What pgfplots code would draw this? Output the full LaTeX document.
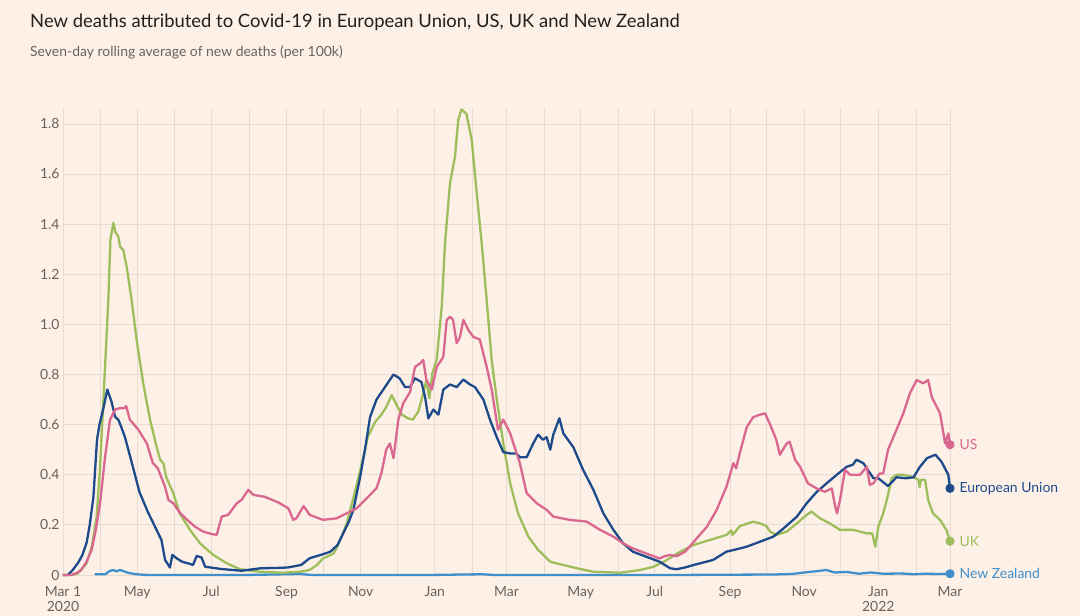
\documentclass[border=0pt]{standalone}
\usepackage{pgfplots}
\pgfplotsset{compat=1.18}
\usepackage{fontspec}
\setmainfont{Lato}
\definecolor{bg}{HTML}{FDF0E6}
\definecolor{gridc}{HTML}{E8DCD2}
\definecolor{tickc}{HTML}{6A625C}
\definecolor{titlec}{HTML}{231F1C}
\definecolor{usc}{HTML}{D9678F}
\definecolor{euc}{HTML}{1D4A8A}
\definecolor{ukc}{HTML}{9DBE5B}
\definecolor{nzc}{HTML}{3F8FCB}
\begin{document}
\begin{tikzpicture}
\path[use as bounding box, fill=bg] (0,0) rectangle (1080bp,616bp);
\node[anchor=base west, inner sep=0, text=titlec, font=\fontsize{18.5}{21}\selectfont] at (30bp,588bp) {New deaths attributed to Covid-19 in European Union, US, UK and New Zealand};
\node[anchor=base west, inner sep=0, text=tickc, font=\fontsize{14}{16}\selectfont] at (30bp,559bp) {Seven-day rolling average of new deaths (per 100k)};
\begin{axis}[
  at={(63bp,41bp)}, anchor=south west,
  scale only axis, width=887bp, height=467bp,
  xmin=0, xmax=730, ymin=0, ymax=1.8635,
  clip=false,
  axis line style={draw=none},
  major tick style={draw=none}, minor tick style={draw=none},
  xtick={0,61,122,184,245,306,365,426,487,549,610,671,730},
  xticklabels={{Mar 1\\2020},May,Jul,Sep,Nov,Jan,Mar,May,Jul,Sep,Nov,{Jan\\2022},Mar},
  minor xtick={31,92,153,214,275,337,396,457,518,579,640,702},
  ytick={0,0.2,0.4,0.6,0.8,1.0,1.2,1.4,1.6,1.8},
  yticklabels={0,0.2,0.4,0.6,0.8,1.0,1.2,1.4,1.6,1.8},
  grid=both,
  major grid style={gridc, line width=0.8bp},
  minor grid style={gridc, line width=0.8bp},
  xticklabel style={font=\fontsize{14}{15.5}\selectfont, text=tickc, align=center, yshift=-8bp},
  yticklabel style={font=\fontsize{14}{15}\selectfont, text=tickc},
  every axis plot/.append style={line width=2.3bp, line join=round, no markers},
]
% New Zealand
\addplot[nzc] coordinates {(26,0.003)(35,0.003)(38,0.015)(41,0.02)(44,0.015)(47,0.02)(50,0.015)(54,0.008)(60,0.003)(70,0)(100,0)(150,0)(195,0.004)(205,0)(300,0)(345,0.003)(355,0)(500,0)(585,0.002)(600,0.004)(610,0.01)(620,0.015)(628,0.02)(635,0.01)(645,0.012)(655,0.005)(665,0.01)(675,0.005)(690,0.006)(700,0.003)(710,0.005)(720,0.004)(730,0.005)};
% UK
\addplot[ukc] coordinates {(0,0)(6,0)(12,0.005)(19.5,0.047)(24,0.12)(27.7,0.233)(30.5,0.43)(34.6,0.83)(37.3,1.097)(39,1.337)(41.5,1.405)(43,1.37)(45.5,1.35)(47,1.31)(49.6,1.297)(52.4,1.23)(56.5,1.097)(60.6,0.938)(66,0.765)(71.6,0.62)(77,0.512)(80,0.46)(82.6,0.446)(85,0.39)(90.8,0.326)(96,0.246)(104.5,0.18)(112.8,0.126)(123.7,0.08)(134.7,0.047)(145.7,0.023)(162,0.013)(181,0.009)(195,0.013)(203,0.02)(209,0.04)(214,0.066)(222.5,0.085)(225,0.106)(229,0.15)(233.5,0.206)(240,0.326)(246,0.446)(251,0.552)(256.8,0.61)(262,0.64)(266,0.67)(270.5,0.718)(274.6,0.678)(278.8,0.64)(284,0.625)(288,0.62)(292.4,0.652)(296.5,0.725)(299,0.778)(301.5,0.705)(304,0.805)(307.5,0.858)(311.7,1.07)(314.4,1.324)(318.5,1.563)(322.6,1.67)(325.3,1.816)(328,1.858)(332,1.84)(336.4,1.736)(340.5,1.523)(344.6,1.324)(348.7,1.097)(352.8,0.858)(357,0.70)(362.4,0.525)(368,0.366)(374.5,0.246)(383,0.153)(391,0.10)(394,0.087)(401,0.053)(411.8,0.04)(422.8,0.027)(436.5,0.013)(458.4,0.009)(475,0.02)(486,0.033)(497,0.06)(508,0.093)(519,0.12)(532.5,0.14)(546,0.16)(550,0.178)(551,0.16)(557,0.195)(568,0.213)(573.7,0.206)(579,0.195)(582,0.173)(587,0.16)(595.6,0.173)(604,0.206)(612,0.24)(616,0.253)(623,0.226)(631,0.206)(639.5,0.18)(650.5,0.18)(661.5,0.166)(666,0.166)(668.5,0.113)(671,0.193)(675,0.246)(678,0.30)(682,0.386)(686,0.40)(691.6,0.40)(700,0.39)(704,0.38)(705,0.35)(706,0.38)(709.5,0.38)(712,0.30)(716,0.246)(721.8,0.22)(727,0.18)(730,0.135)};
% European Union
\addplot[euc] coordinates {(0,0)(4,0)(8,0.02)(12.6,0.05)(16,0.08)(19.5,0.13)(22,0.2)(25,0.31)(28,0.54)(30,0.6)(33,0.66)(36.5,0.74)(40,0.69)(43,0.63)(45.5,0.62)(48,0.59)(51,0.55)(56.5,0.45)(63,0.33)(70,0.25)(77,0.18)(81,0.14)(84,0.06)(88,0.03)(90,0.08)(94,0.065)(98,0.053)(104,0.045)(107,0.04)(110,0.076)(114,0.07)(117,0.033)(130,0.024)(147,0.017)(163,0.027)(175,0.028)(185,0.03)(196,0.04)(203,0.067)(212,0.08)(220,0.093)(226,0.12)(231,0.17)(235,0.21)(239,0.26)(244.5,0.39)(248.5,0.50)(252.7,0.63)(258,0.70)(265,0.75)(272,0.80)(277,0.785)(281.5,0.75)(285.6,0.75)(289.7,0.785)(295,0.77)(298,0.71)(300.7,0.625)(304.8,0.66)(309,0.64)(313,0.74)(318.5,0.76)(324,0.75)(329.5,0.78)(335,0.76)(339,0.75)(346,0.70)(351.4,0.62)(357,0.55)(362.4,0.49)(368,0.485)(373,0.485)(376,0.47)(381.6,0.47)(387,0.525)(391,0.56)(395,0.54)(398,0.55)(401,0.50)(403.5,0.56)(408.5,0.625)(411.8,0.565)(420,0.51)(428,0.42)(436.5,0.34)(444.7,0.246)(453,0.18)(461,0.126)(469,0.093)(480,0.073)(491,0.053)(499.6,0.027)(505,0.023)(512,0.03)(519,0.04)(535,0.06)(546,0.093)(557,0.106)(562.7,0.113)(573.7,0.133)(584.6,0.153)(593,0.186)(604,0.233)(612,0.286)(620,0.33)(628.5,0.366)(636.8,0.40)(645,0.432)(650,0.44)(653,0.46)(658.7,0.446)(661.5,0.426)(667,0.386)(671,0.386)(679,0.355)(686,0.39)(694,0.386)(700,0.39)(705,0.43)(711,0.466)(718,0.48)(723,0.452)(728.6,0.40)(730,0.346)};
% US
\addplot[usc] coordinates {(0,0)(7,0)(12,0.01)(15,0.02)(19,0.05)(23.6,0.1)(27,0.18)(30.5,0.286)(34.6,0.47)(38.7,0.62)(43,0.66)(47,0.666)(50,0.665)(52,0.674)(55,0.62)(62,0.58)(69,0.525)(74,0.446)(78,0.426)(84,0.352)(86.7,0.30)(90.8,0.286)(96,0.25)(101.8,0.222)(108.6,0.193)(115.5,0.173)(122,0.164)(126.5,0.16)(130.6,0.233)(136,0.24)(143,0.286)(147,0.30)(152.5,0.34)(156.6,0.32)(166,0.312)(177,0.29)(185.5,0.266)(189.5,0.22)(192,0.226)(195,0.25)(198,0.275)(203,0.24)(214,0.22)(225,0.226)(233.5,0.246)(241.7,0.266)(250,0.306)(258,0.346)(262,0.405)(266,0.50)(269,0.525)(272,0.466)(276,0.62)(280,0.685)(285.6,0.73)(289.7,0.83)(294,0.845)(296.5,0.858)(299,0.78)(303.5,0.74)(307.5,0.83)(313,0.87)(315.8,1.018)(318.5,1.03)(321,1.018)(324,0.925)(326.7,0.95)(329.5,1.018)(333.6,0.978)(337.7,0.95)(343,0.94)(348.7,0.83)(352.8,0.74)(358,0.58)(362.4,0.62)(368,0.565)(376,0.446)(381.6,0.326)(385,0.31)(390,0.286)(398,0.26)(403.5,0.233)(417,0.22)(431,0.213)(442,0.18)(453,0.153)(461,0.126)(469,0.106)(480,0.086)(491,0.066)(495,0.075)(499.6,0.08)(505,0.075)(512,0.093)(521.5,0.146)(530,0.193)(538,0.26)(546,0.352)(551.7,0.446)(554,0.426)(557,0.486)(562.7,0.59)(568,0.63)(573.7,0.64)(577.8,0.645)(582,0.60)(587,0.54)(590,0.48)(595.6,0.525)(598,0.532)(602.5,0.46)(606.6,0.432)(613,0.366)(620,0.346)(627,0.332)(632.7,0.346)(635,0.286)(637,0.246)(639.5,0.30)(643.6,0.42)(647.7,0.40)(656,0.40)(661.5,0.432)(664,0.36)(667,0.366)(672,0.405)(675,0.405)(679,0.50)(686,0.58)(691.6,0.645)(697,0.725)(702.6,0.778)(708,0.765)(712,0.778)(715,0.71)(721.8,0.645)(726,0.525)(728.6,0.565)(730,0.52)};
% end dots
\addplot[only marks, mark=*, mark size=3.4bp, color=nzc] coordinates {(730,0.005)};
\addplot[only marks, mark=*, mark size=3.4bp, color=ukc] coordinates {(730,0.135)};
\addplot[only marks, mark=*, mark size=3.4bp, color=euc] coordinates {(730,0.346)};
\addplot[only marks, mark=*, mark size=3.4bp, color=usc] coordinates {(730,0.52)};
\node[anchor=west, text=usc, font=\fontsize{14}{16}\selectfont] at (axis cs:735,0.52) {US};
\node[anchor=west, text=euc, font=\fontsize{14}{16}\selectfont] at (axis cs:735,0.346) {European Union};
\node[anchor=west, text=ukc, font=\fontsize{14}{16}\selectfont] at (axis cs:735,0.135) {UK};
\node[anchor=west, text=nzc, font=\fontsize{14}{16}\selectfont] at (axis cs:735,0.005) {New Zealand};
\end{axis}
\end{tikzpicture}
\end{document}
